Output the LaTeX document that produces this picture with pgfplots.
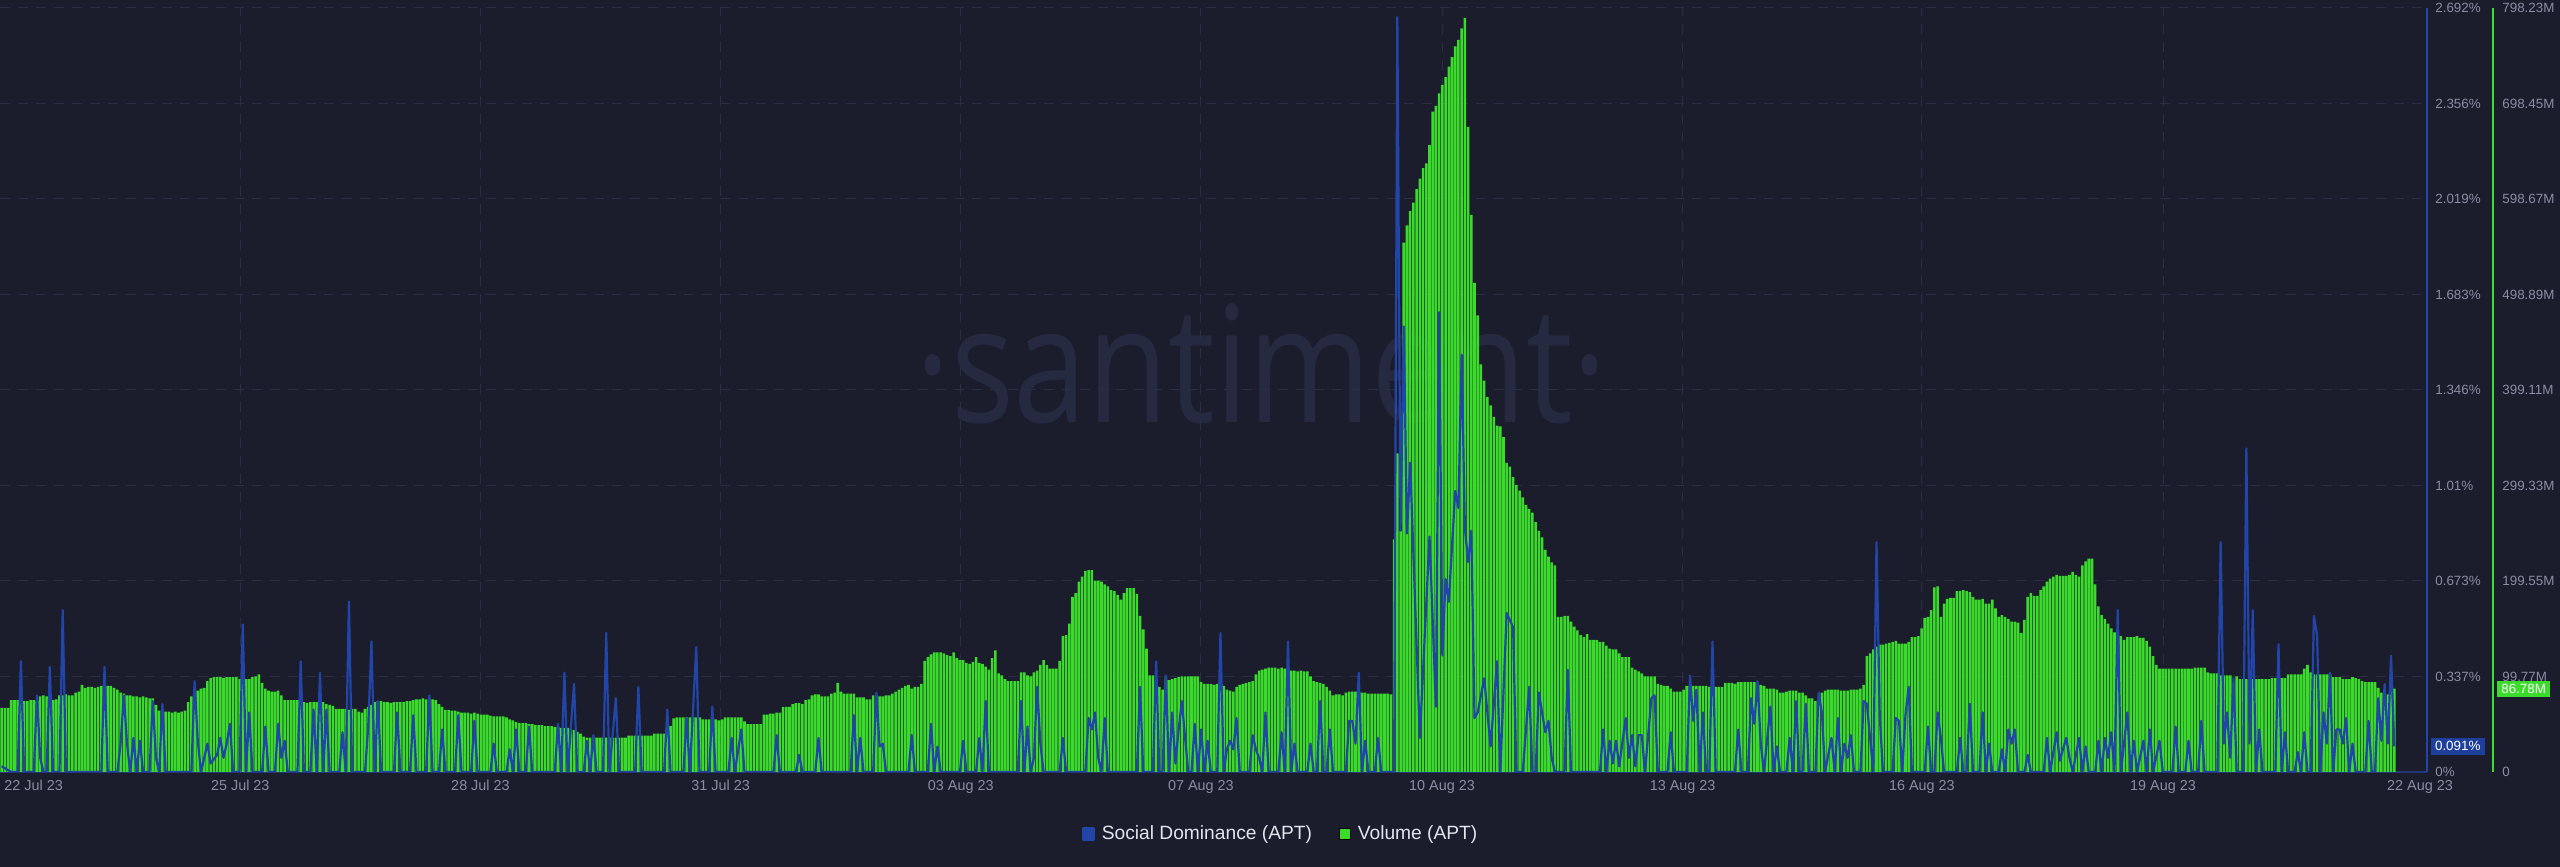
\documentclass[border=0pt]{standalone}
\usepackage{graphicx}
\usepackage{pgfplots}
\pgfplotsset{compat=1.18}
\usepackage{fontspec}
\setmainfont{Liberation Sans}
\newfontfamily\wmfont{Open Sans}
\definecolor{bg}{HTML}{1B1C2C}
\definecolor{volgreen}{HTML}{3BDB2C}
\definecolor{sdblue}{HTML}{2245A8}
\definecolor{sdbox}{HTML}{1E3F9C}
\definecolor{gridc}{HTML}{2A2E45}
\definecolor{tickc}{HTML}{8A8EA3}
\definecolor{wm}{HTML}{252A40}
\definecolor{axisblue}{HTML}{22367A}
\definecolor{legtext}{HTML}{E2E4EC}
\newcommand\tickfont{\fontsize{6.7}{8}\selectfont}
\begin{document}
\begin{tikzpicture}
\fill[bg] (0pt,0pt) rectangle (1280pt,433.5pt);
\node[text=wm, anchor=base, inner sep=0pt] at (631pt,222pt) {\scalebox{0.815}[1]{\wmfont\fontsize{81}{81}\selectfont ·santiment·}};
\begin{axis}[
  at={(0pt,47.5pt)}, anchor=south west,
  scale only axis, width=1213.5pt, height=382pt,
  xmin=-0.5, xmax=754.16, ymin=0, ymax=798.23,
  axis x line*=bottom, axis y line*=right,
  axis y line shift=33pt,
  x axis line style={draw=axisblue, line width=1pt, -},
  y axis line style={draw=volgreen, line width=1pt, -},
  major tick length=0pt, tick style={draw=none},
  xtick={74.22,148.9,223.6,298.25,372.9,447.9,522.7,597.1,672.1},
  xticklabels={25 Jul 23,28 Jul 23,31 Jul 23,03 Aug 23,07 Aug 23,10 Aug 23,13 Aug 23,16 Aug 23,19 Aug 23},
  extra x ticks={9.95,752},
  extra x tick labels={22 Jul 23,22 Aug 23},
  extra x tick style={grid=none},
  xticklabel style={anchor=north, inner sep=0pt, yshift=-4pt, font=\fontsize{7.2}{8}\selectfont, text=tickc},
  ytick={0,99.779,199.558,299.336,399.115,498.894,598.673,698.451,798.23},
  yticklabels={0,99.77M,199.55M,299.33M,399.11M,498.89M,598.67M,698.45M,798.23M},
  yticklabel style={anchor=west, inner sep=0pt, xshift=4.5pt, font=\tickfont, text=tickc},
  xmajorgrids, ymajorgrids,
  grid style={draw=gridc, line width=0.5pt, dash pattern=on 5pt off 4pt},
  clip mode=individual,
]
\addplot[ybar, bar width=0.8, fill=volgreen, draw=none] table[header=false, x expr=\coordindex, y index=0, row sep=\\] {
67\\67\\67\\75\\75\\75\\75\\74\\74\\75\\75\\74\\79\\80\\79\\75\\75\\76\\80\\80\\81\\80\\80\\83\\
84\\91\\88\\89\\89\\88\\89\\90\\90\\90\\90\\88\\86\\83\\82\\80\\80\\79\\79\\78\\79\\78\\77\\77\\
70\\64\\64\\63\\63\\62\\63\\62\\63\\64\\73\\79\\80\\85\\87\\88\\95\\98\\99\\99\\99\\98\\99\\99\\
99\\99\\97\\97\\97\\97\\99\\100\\102\\93\\87\\85\\84\\84\\85\\80\\75\\75\\75\\75\\75\\74\\73\\72\\
73\\73\\73\\74\\73\\71\\70\\69\\66\\66\\66\\66\\65\\66\\66\\63\\62\\66\\68\\70\\73\\74\\74\\73\\
73\\72\\73\\73\\73\\73\\74\\74\\75\\76\\76\\77\\76\\77\\76\\75\\71\\68\\65\\65\\64\\64\\63\\62\\
62\\62\\61\\62\\61\\60\\60\\60\\59\\58\\58\\58\\58\\57\\55\\54\\52\\51\\51\\51\\50\\50\\49\\49\\
49\\48\\48\\48\\47\\47\\46\\46\\46\\45\\44\\42\\40\\37\\36\\36\\36\\36\\36\\36\\36\\36\\36\\36\\
36\\36\\36\\38\\38\\38\\38\\38\\38\\38\\38\\40\\40\\40\\40\\40\\48\\56\\57\\57\\57\\57\\57\\57\\
57\\57\\55\\55\\55\\54\\55\\54\\55\\57\\57\\57\\57\\57\\57\\53\\50\\50\\50\\50\\50\\60\\60\\61\\
61\\62\\62\\68\\68\\68\\71\\72\\72\\71\\75\\76\\80\\81\\81\\79\\79\\79\\82\\83\\93\\84\\82\\82\\
82\\82\\78\\78\\78\\76\\76\\80\\80\\79\\79\\80\\80\\82\\84\\86\\88\\90\\91\\87\\89\\89\\92\\116\\
120\\123\\125\\125\\125\\124\\122\\121\\125\\119\\117\\117\\114\\113\\115\\120\\114\\113\\110\\107\\119\\127\\103\\101\\
97\\95\\95\\95\\95\\104\\104\\101\\100\\104\\106\\112\\117\\112\\108\\108\\108\\116\\142\\143\\155\\183\\187\\199\\
204\\210\\211\\211\\200\\200\\199\\196\\194\\190\\189\\185\\180\\187\\192\\192\\192\\186\\163\\149\\129\\101\\101\\95\\
89\\86\\100\\96\\97\\98\\99\\100\\100\\100\\100\\100\\100\\94\\92\\92\\92\\91\\92\\92\\90\\86\\85\\84\\
89\\91\\92\\93\\94\\95\\102\\106\\107\\108\\109\\109\\109\\108\\109\\108\\106\\106\\106\\105\\106\\105\\105\\100\\
95\\94\\93\\92\\89\\85\\80\\81\\81\\80\\83\\84\\84\\84\\84\\83\\83\\82\\82\\82\\82\\82\\82\\82\\
81\\243\\333\\252\\553\\571\\586\\595\\609\\620\\631\\636\\655\\690\\696\\709\\718\\726\\737\\747\\758\\765\\777\\788\\
674\\582\\511\\477\\426\\409\\392\\383\\371\\362\\361\\350\\323\\319\\308\\300\\294\\287\\279\\275\\271\\261\\252\\245\\
232\\225\\219\\216\\162\\162\\163\\163\\157\\152\\148\\143\\141\\144\\138\\138\\138\\136\\136\\132\\129\\128\\128\\124\\
120\\120\\120\\109\\107\\105\\103\\100\\100\\100\\100\\92\\91\\90\\90\\87\\84\\84\\84\\86\\90\\90\\90\\90\\
90\\90\\90\\89\\89\\89\\89\\89\\93\\93\\93\\92\\94\\94\\94\\94\\94\\94\\91\\91\\90\\87\\87\\87\\
86\\83\\83\\84\\85\\85\\85\\83\\83\\80\\77\\77\\74\\76\\83\\85\\86\\86\\86\\86\\85\\85\\85\\86\\
86\\86\\87\\91\\121\\124\\128\\131\\133\\133\\134\\135\\136\\137\\134\\134\\134\\136\\141\\141\\142\\150\\161\\162\\
169\\193\\194\\162\\176\\181\\182\\182\\189\\189\\190\\189\\188\\183\\180\\180\\181\\176\\176\\180\\171\\162\\164\\162\\
160\\157\\157\\156\\145\\159\\183\\187\\184\\184\\190\\194\\199\\202\\204\\206\\205\\205\\205\\206\\209\\206\\204\\216\\
220\\223\\223\\196\\173\\164\\160\\155\\150\\146\\144\\142\\138\\141\\141\\141\\142\\140\\140\\137\\131\\121\\112\\108\\
108\\108\\108\\108\\108\\108\\108\\108\\108\\108\\109\\109\\109\\109\\104\\103\\103\\103\\101\\101\\101\\101\\90\\100\\
97\\97\\97\\97\\97\\97\\97\\97\\97\\97\\98\\98\\98\\98\\98\\102\\102\\102\\102\\102\\108\\112\\104\\102\\
102\\102\\102\\102\\102\\99\\99\\99\\97\\97\\97\\99\\98\\97\\95\\94\\94\\94\\94\\88\\83\\86\\81\\85\\
87\\
};
\node[fill=volgreen, text=white, font=\tickfont, inner xsep=2pt, inner ysep=1.8pt, anchor=west, xshift=35pt] at ({rel axis cs:1,0}|-{axis cs:0,86.78}) {86.78M};
\end{axis}
\begin{axis}[
  at={(0pt,47.5pt)}, anchor=south west,
  scale only axis, width=1213.5pt, height=382pt,
  xmin=-0.5, xmax=754.16, ymin=0, ymax=2.692,
  axis x line=none, axis y line*=right,
  y axis line style={draw=sdblue, line width=1pt, -},
  major tick length=0pt, tick style={draw=none},
  ytick={0,0.3365,0.673,1.0095,1.346,1.6825,2.019,2.3555,2.692},
  yticklabels={0\%,0.337\%,0.673\%,1.01\%,1.346\%,1.683\%,2.019\%,2.356\%,2.692\%},
  yticklabel style={anchor=west, inner sep=0pt, xshift=4pt, font=\tickfont, text=tickc},
  clip mode=individual,
  legend style={at={(0.5274,-0.0812)}, anchor=center, draw=none, fill=none, text=legtext,
    font=\fontsize{9.6}{11}\selectfont, legend columns=2,
    /tikz/every odd column/.append style={column sep=3pt},
    /tikz/every even column/.append style={column sep=13pt},
    nodes={inner sep=0.5pt}},
  legend image code/.code={\fill[#1] (0pt,-2.75pt) rectangle (5.5pt,2.75pt);},
]
\addplot[sdblue, line width=1.1pt, line join=round] coordinates {
(0,0.02) (3,0) (5,0) (6,0.39) (7,0) (10,0) (11,0.27) (12,0.05) (13,0) (14,0) (15,0.37) (16,0) (18,0) (19,0.57) (20,0)
(31,0) (32,0.37) (33,0) (36,0) (37,0.1) (38,0.27) (39,0.1) (40,0) (41,0.12) (42,0) (43,0.11) (44,0) (46,0) (47,0.25) (48,0.05) (49,0) (50,0.24) (51,0)
(59,0) (60,0.32) (61,0.11) (62,0) (63,0.05) (64,0.1) (65,0.03) (67,0.06) (68,0.12) (69,0.05) (70,0.1) (71,0.17) (72,0) (74,0) (75,0.52) (76,0) (77,0.21) (78,0)
(81,0) (82,0.16) (83,0) (85,0) (86,0.17) (87,0.05) (88,0.11) (89,0) (92,0) (93,0.39) (94,0) (96,0) (97,0.22) (98,0) (99,0.35) (100,0) (101,0.22) (102,0)
(105,0) (106,0.14) (107,0) (108,0.6) (109,0) (113,0) (114,0.16) (115,0.46) (116,0) (117,0.25) (118,0) (122,0) (123,0.21) (124,0) (127,0) (128,0.2) (129,0)
(132,0) (133,0.27) (134,0) (136,0) (137,0.15) (138,0) (141,0) (142,0.2) (143,0) (146,0) (147,0.18) (148,0) (152,0) (153,0.1) (154,0) (157,0) (158,0.08) (159,0) (160,0.15) (161,0)
(163,0) (164,0.16) (165,0) (172,0) (173,0.17) (174,0) (175,0.35) (176,0) (178,0.31) (179,0) (181,0) (182,0.11) (183,0) (184,0.13) (185,0) (187,0) (188,0.49) (189,0) (191,0.26) (192,0)
(197,0) (198,0.3) (199,0) (206,0) (207,0.22) (208,0) (212,0) (213,0.19) (214,0) (216,0.44) (217,0) (220,0) (221,0.23) (222,0) (226,0) (227,0.12) (228,0) (230,0.15) (231,0)
(240,0) (241,0.13) (242,0) (247,0) (248,0.06) (249,0) (253,0) (254,0.12) (255,0) (264,0) (265,0.2) (266,0) (267,0.12) (268,0) (271,0) (272,0.28) (273,0.09) (274,0.1) (275,0)
(282,0) (283,0.13) (284,0) (288,0) (289,0.17) (290,0) (291,0.09) (292,0) (298,0) (299,0.11) (300,0) (303,0) (304,0.12) (305,0) (306,0.25) (307,0)
(316,0) (317,0.25) (318,0) (319,0.16) (320,0) (321,0.05) (322,0.3) (323,0.1) (324,0) (329,0) (330,0.12) (331,0) (337,0) (338,0.19) (339,0.15) (340,0.21) (341,0.05) (342,0) (343,0.19) (344,0)
(353,0) (354,0.3) (355,0) (358,0) (359,0.39) (360,0) (361,0) (362,0.34) (363,0) (364,0.21) (365,0.03) (366,0.15) (367,0.25) (368,0.12) (369,0) (370,0) (371,0.17) (372,0) (373,0.15) (374,0) (375,0.11) (376,0)
(378,0) (379,0.49) (380,0) (381,0.08) (382,0.11) (383,0.08) (384,0.19) (385,0) (388,0) (389,0.13) (390,0.08) (391,0.05) (392,0) (393,0.21) (394,0) (397,0) (398,0.14) (399,0) (400,0.46) (401,0) (402,0.1) (403,0)
(406,0) (407,0.1) (408,0) (409,0) (410,0.25) (411,0) (412,0) (413,0.15) (414,0) (418,0) (419,0.18) (420,0.18) (421,0.1) (422,0.35) (423,0) (424,0.11) (425,0) (427,0) (428,0.12) (429,0)
(433,0) (434,2.66) (435,0.85) (436,1.57) (437,0.84) (438,1.09) (441,0.12) (444,0.83) (446,0.23) (447,1.62) (448,0.41) (449,0.68) (450,0.6) (452,0.99) (453,0.93) (454,1.47) (455,0.86) (456,0.74) (457,0.85)
(458,0.19) (459,0.21) (461,0.33) (463,0.09) (465,0.39) (466,0) (468,0.56) (470,0.51) (471,0) (473,0) (475,0.3) (476,0) (477,0) (478,0.28) (480,0.14) (481,0.18) (482,0.05) (483,0)
(486,0) (487,0.36) (488,0) (497,0) (498,0.15) (499,0) (500,0.11) (501,0.03) (502,0.11) (503,0.02) (505,0.19) (506,0.05) (507,0.13) (508,0.02) (509,0.13) (510,0.13) (511,0) (513,0.26) (514,0.27) (515,0)
(518,0) (519,0.14) (520,0) (524,0) (525,0.34) (526,0.18) (527,0.29) (528,0) (529,0.21) (530,0) (531,0) (532,0.46) (533,0) (539,0) (540,0.15) (541,0) (543,0) (544,0.26) (545,0.17) (546,0.32) (547,0.1) (548,0)
(550,0.23) (551,0) (552,0.09) (553,0) (555,0) (556,0.12) (557,0) (558,0.25) (559,0) (560,0) (561,0.24) (562,0) (564,0) (565,0.28) (566,0.21) (567,0) (569,0.12) (570,0) (571,0.19) (572,0) (573,0.1) (574,0.05) (575,0.13) (576,0)
(578,0) (579,0.25) (580,0.24) (582,0) (583,0.81) (584,0.2) (585,0) (588,0) (589,0.19) (590,0.18) (591,0) (592,0.2) (593,0.3) (594,0) (598,0) (599,0.16) (600,0) (601,0) (602,0.21) (603,0.12) (604,0)
(608,0) (609,0.12) (610,0) (611,0) (612,0.24) (613,0) (615,0) (616,0.21) (617,0) (618,0.1) (619,0) (621,0) (622,0.08) (623,0) (624,0.15) (625,0.1) (626,0.15) (627,0) (629,0) (630,0.06) (631,0)
(635,0) (636,0.12) (637,0) (639,0.14) (640,0.04) (642,0.12) (643,0.05) (644,0) (646,0.12) (647,0) (648,0.09) (649,0) (651,0) (652,0.11) (653,0) (654,0.12) (655,0.05) (656,0.14) (657,0) (658,0.57) (659,0)
(661,0.21) (662,0) (663,0.11) (664,0) (666,0.11) (667,0) (668,0.15) (669,0) (671,0.11) (672,0) (675,0) (676,0.16) (677,0) (679,0) (680,0.11) (681,0) (683,0) (684,0.18) (685,0)
(689,0) (690,0.81) (691,0.1) (692,0.21) (693,0.05) (694,0.33) (695,0) (697,0) (698,1.14) (699,0.1) (700,0.57) (701,0) (702,0.15) (703,0) (707,0) (708,0.45) (709,0) (710,0.14) (711,0)
(713,0) (714,0.07) (715,0) (716,0.14) (717,0) (718,0) (719,0.55) (720,0.48) (721,0) (722,0.21) (723,0.1) (724,0.35) (725,0) (726,0.15) (727,0.15) (728,0.1) (729,0.19) (730,0) (731,0.1) (732,0)
(735,0) (736,0.18) (737,0) (738,0) (739,0.26) (740,0.11) (741,0.31) (742,0.1) (743,0.41) (744,0.09)
};
\addlegendentry{Social Dominance (APT)}
\addlegendimage{fill=volgreen}
\addlegendentry{Volume (APT)}
\node[fill=sdbox, text=white, font=\tickfont, inner xsep=2pt, inner ysep=1.8pt, anchor=west, xshift=1.85pt] at ({rel axis cs:1,0}|-{axis cs:0,0.091}) {0.091\%};
\end{axis}
\pgfresetboundingbox
\path (0pt,0pt) rectangle (1280pt,433.5pt);
\end{tikzpicture}
\end{document}
